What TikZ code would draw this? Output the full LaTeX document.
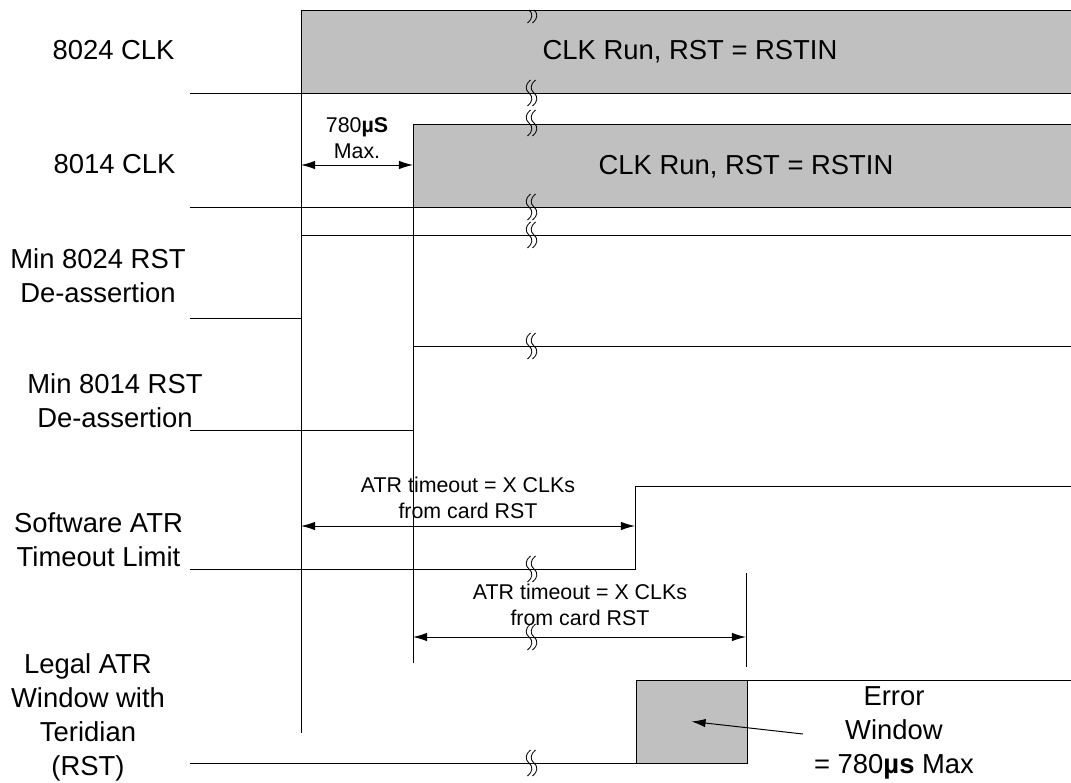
\documentclass[tikz,border=0pt]{standalone}
\usepackage{fontspec}
\setmainfont{Liberation Sans}
\usetikzlibrary{arrows.meta}
\definecolor{clkgray}{RGB}{192,192,192}

\begin{document}
\begin{tikzpicture}
    [
    x=0.025cm, y=-0.025cm,
    line width=0.7pt,
    >={Latex[length=10pt,width=6pt]},
    signame/.style={inner sep=0pt, align=center, anchor=base, font=\fontsize{19.5}{24}\selectfont},
    note/.style={inner sep=0pt, align=center, anchor=base, font=\fontsize{15.2}{18.4}\selectfont},
    window/.style={draw, fill=clkgray, inner sep=0pt, minimum width=2.775cm, minimum height=2.075cm},
    brk/.pic={
      \draw [line width=0.6pt] (1.5,-13) .. controls (-4,-9) and (-4,-3) .. (0,0) .. controls (4,3) and (4,9) .. (-1.5,13);
      \draw [line width=0.6pt] (6.5,-13) .. controls (1,-9) and (1,-3) .. (5,0) .. controls (9,3) and (9,9) .. (3.5,13);
    },
    brkhalf/.pic={
      \draw [line width=0.6pt] (0,0) .. controls (4,3) and (4,9) .. (-1.5,13);
      \draw [line width=0.6pt] (5,0) .. controls (9,3) and (9,9) .. (3.5,13);
    }
    ]
    \useasboundingbox (0,0) rectangle (1071,782);
    \clip (0,0) rectangle (1071,782);

    % clock boxes
    \fill [clkgray] (301,10) rectangle (1071,93);
    \fill [clkgray] (413,124) rectangle (1071,207);
    \draw (1071,10) -- (301,10);
    \draw (190,93) -- (1071,93);
    \draw (1071,124) -- (413,124);
    \draw (190,207) -- (1071,207);

    % reference edges
    \draw (301,10) -- (301,733);
    \draw (413,124) -- (413,663);
    \draw (746,573) -- (746,667);

    % reset and timeout signals
    \draw (190,318) -- (301,318);
    \draw (301,235) -- (1071,235);
    \draw (190,430) -- (413,430);
    \draw (413,346) -- (1071,346);
    \draw (190,569) -- (635,569) -- (635,486) -- (1071,486);
    \draw (190,763) -- (636,763);
    \node (errwin) at (691.5,721.5) [window] {};
    \draw (747,680) -- (1071,680);

    % dimension arrows
    \coordinate (d1a) at (301,165);
    \coordinate (d1b) at (413,165);
    \coordinate (d2a) at (301,526);
    \coordinate (d2b) at (635,526);
    \coordinate (d3a) at (413,637);
    \coordinate (d3b) at (746,637);
    \coordinate (errtail) at (803,734);
    \draw [<->] (d1a) -- (d1b);
    \draw [<->] (d2a) -- (d2b);
    \draw [<->] (d3a) -- (d3b);
    \draw [->] (errtail) -- (errwin.center);

    % time breaks
    \pic at (529,10) {brkhalf};
    \foreach \y in {93,123,207,235,346,569,637,763}
      \pic at (529,\y) {brk};

    % signal names
    \node (n8024clk) at (113.5,60) [signame] {8024 CLK};
    \node (n8014clk) at (114.5,173) [signame] {8014 CLK};
    \node (n8024rst) at (98,302) [signame] {Min 8024 RST\\De-assertion};
    \node (n8014rst) at (115,427) [signame] {Min 8014 RST\\De-assertion};
    \node (nswatr) at (98.5,566) [signame] {Software ATR\\Timeout Limit};
    \node (nlegal) at (88,775) [signame] {Legal ATR\\Window with\\Teridian\\(RST)};

    % texts on the diagram
    \node (run8024) at (690,60) [signame] {CLK Run, RST = RSTIN};
    \node (run8014) at (746,174) [signame] {CLK Run, RST = RSTIN};
    \node (max780) at (357,158) [note] {780\textbf{µS}\\Max.};
    \node (atrsw) at (468,518) [note] {ATR timeout = X CLKs\\from card RST};
    \node (atrcard) at (580,625) [note] {ATR timeout = X CLKs\\from card RST};
    \node (errtext) at (894,773) [signame] {Error\\Window\\= 780\textbf{µs} Max};
\end{tikzpicture}
\end{document}
